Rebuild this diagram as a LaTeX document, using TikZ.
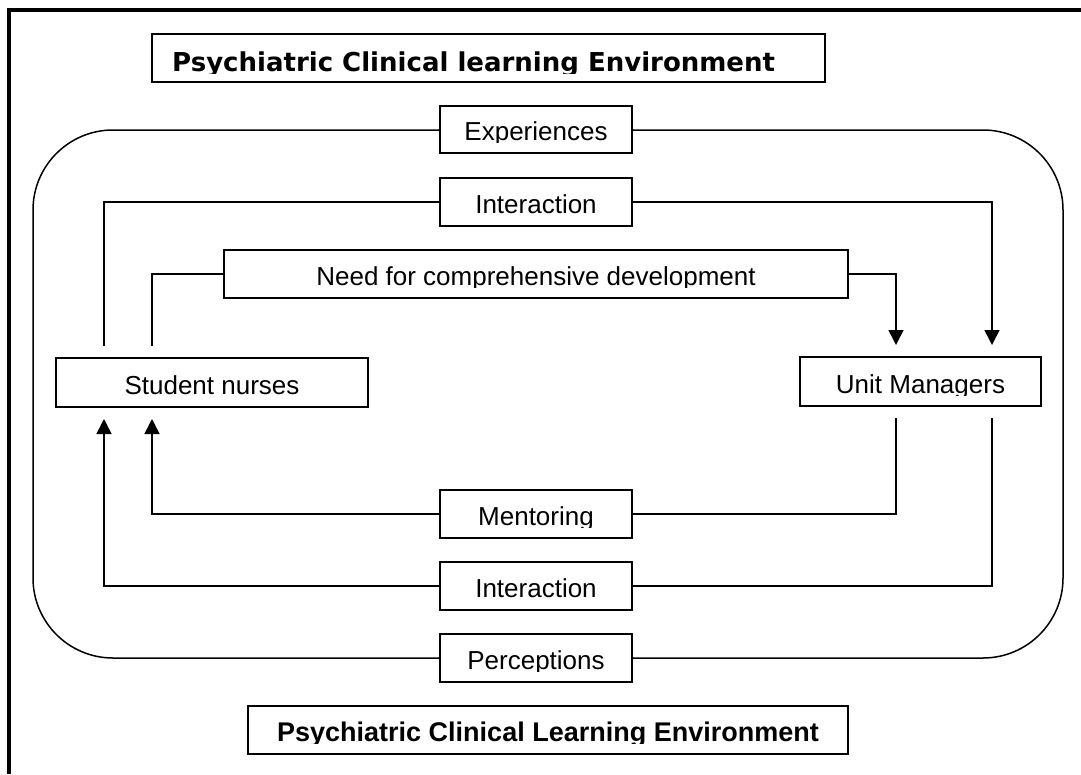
\documentclass[tikz,border=0pt]{standalone}
\usepackage{fontspec}
\setmainfont{Liberation Sans}
\newfontfamily\verdanafont{DejaVu Sans}
\usetikzlibrary{arrows.meta}
\newcommand{\labbox}[7]{% #1 name, #2 x1, #3 y1, #4 x2, #5 y2, #6 font, #7 text
  \pgfmathsetmacro\lbcx{(#2+#4)/2}%
  \pgfmathsetmacro\lbcy{(#3+#5)/2}%
  \pgfmathsetmacro\lbbl{#5-13}%
  \node[bx, minimum width=#4pt-#2pt, minimum height=#5pt-#3pt] (#1) at (\lbcx,\lbcy) {};
  \begin{scope}
    \clip (#2,#3) rectangle (#4,\lbbl+2.5);
    \node[anchor=base, inner sep=0pt, font=#6] (#1-text) at (\lbcx,\lbbl) {#7};
  \end{scope}}
\begin{document}
\begin{tikzpicture}[x=1pt,y=-1pt,
  bx/.style={draw, line width=1.6pt, fill=white, inner sep=0pt, outer sep=0pt},
  conn/.style={line width=1.6pt},
  arr/.style={conn, -{Triangle[width=15pt,length=15pt]}},
  lbl/.style={font=\fontsize{26}{30}\selectfont}]
\useasboundingbox (0,0) rectangle (1081,774);
% outer frame
\draw[line width=4pt] (8.5,774) -- (8.5,10) -- (1081,10);
% top title
\node[bx, minimum width=673pt, minimum height=48pt] (title) at (488.5,58) {};
\begin{scope}
  \clip (152,34) rectangle (825,73.5);
  \node[anchor=base west, inner sep=0pt, font=\verdanafont\bfseries\fontsize{26}{30}\selectfont] (title-text) at (172,71) {Psychiatric Clinical learning Environment};
\end{scope}
% environment frame
\node[draw, line width=1.5pt, rounded corners=80pt, minimum width=1030pt, minimum height=528pt, inner sep=0pt, outer sep=0pt] (env) at (548,394) {};
% boxes
\labbox{exp}{440}{106}{632}{153}{\fontsize{26}{30}\selectfont}{Experiences}
\labbox{int1}{440}{178}{632}{226}{\fontsize{26}{30}\selectfont}{Interaction}
\labbox{need}{224}{250}{848}{298}{\fontsize{26}{30}\selectfont}{Need for comprehensive development}
\labbox{sn}{56}{358}{368}{407}{\fontsize{26}{30}\selectfont}{Student nurses}
\labbox{um}{800}{357}{1041}{406}{\fontsize{26}{30}\selectfont}{Unit Managers}
\labbox{men}{440}{490}{632}{538}{\fontsize{26}{30}\selectfont}{Mentoring}
\labbox{int2}{440}{562}{632}{610}{\fontsize{26}{30}\selectfont}{Interaction}
\labbox{per}{440}{634}{632}{682}{\fontsize{26}{30}\selectfont}{Perceptions}
\labbox{bottom}{248}{706}{848}{754}{\bfseries\fontsize{27}{30}\selectfont}{Psychiatric Clinical Learning Environment}
% connector ends
\coordinate (snA) at (104,346);
\coordinate (snB) at (152,346);
\coordinate (umA) at (896,345);
\coordinate (umB) at (992,345);
\coordinate (umC) at (896,418);
\coordinate (umD) at (992,418);
\coordinate (snC) at (152,419);
\coordinate (snD) at (104,419);
% connectors
\draw[conn] (int1.west) -| (snA);
\draw[arr] (int1.east) -| (umB);
\draw[conn] (need.west) -| (snB);
\draw[arr] (need.east) -| (umA);
\draw[conn] (men.east) -| (umC);
\draw[arr] (men.west) -| (snC);
\draw[conn] (int2.east) -| (umD);
\draw[arr] (int2.west) -| (snD);
\end{tikzpicture}
\end{document}
